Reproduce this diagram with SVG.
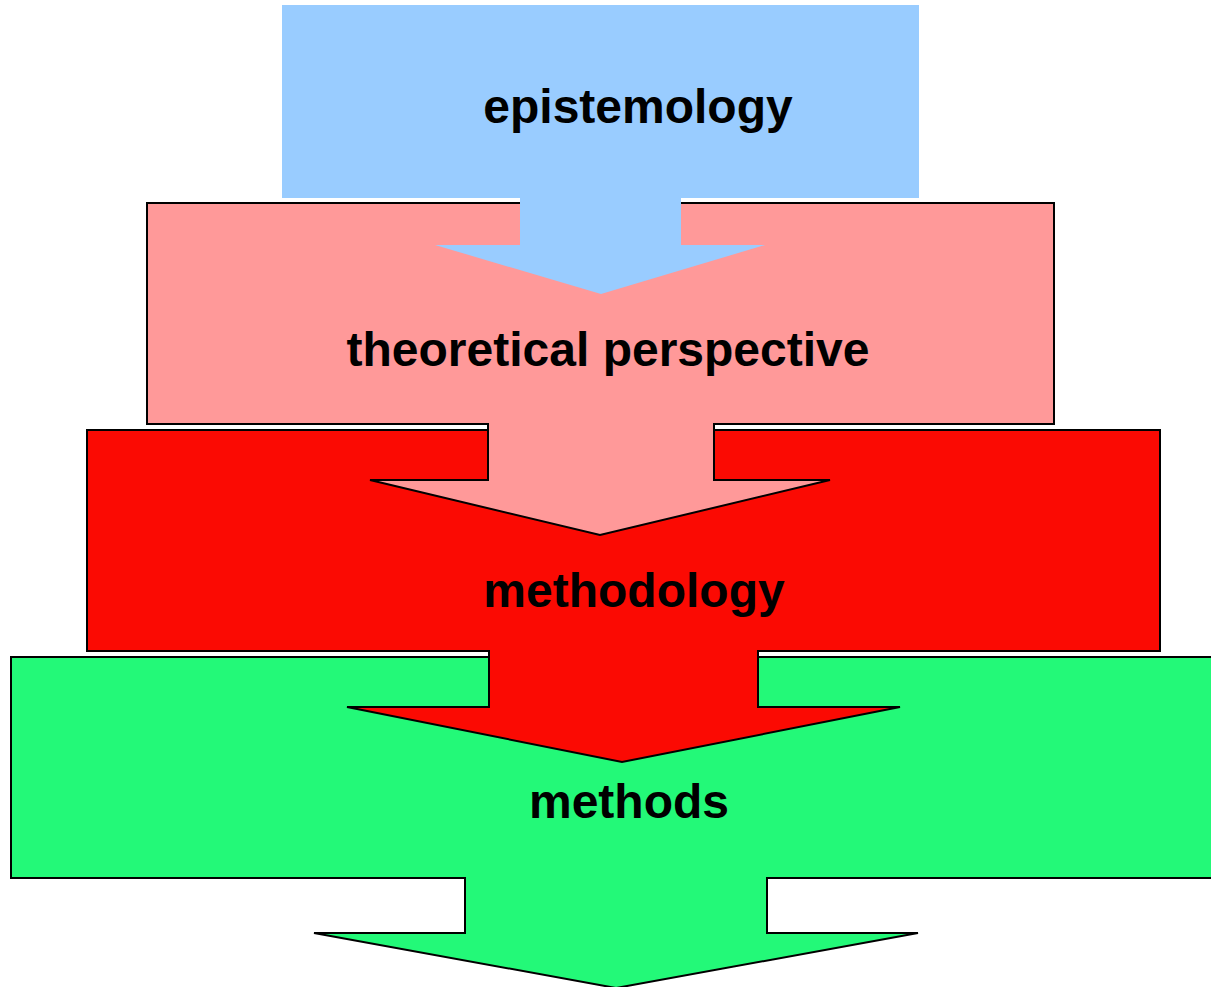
<svg xmlns="http://www.w3.org/2000/svg" width="1211" height="987" viewBox="0 0 1211 987">
<style>
.s{stroke:#000;stroke-width:2;stroke-linejoin:miter}
.t{font-family:"Liberation Sans",Arial,sans-serif;font-weight:bold;font-size:48px;fill:#000;text-anchor:middle}
</style>
<rect width="1211" height="987" fill="#fff"/>
<g id="methods">
<path class="s" fill="#23f978" d="M11,657 H1216 V878 H767 V933 H918 L616,988 L314,933 H465 V878 H11 Z"/>
<text class="t" x="629" y="818">methods</text>
</g>
<g id="methodology">
<path class="s" fill="#fb0a03" d="M87,430 H1160 V651 H758 V707 H900 L622,762 L347,707 H489 V651 H87 Z"/>
<text class="t" x="634" y="607">methodology</text>
</g>
<g id="theoretical-perspective">
<path class="s" fill="#ff9999" d="M147,203 H1054 V424 H714 V480 H830 L600,535 L370,480 H488 V424 H147 Z"/>
<text class="t" x="608" y="366">theoretical perspective</text>
</g>
<g id="epistemology">
<path fill="#99ccff" d="M282,5 H919 V198 H681 V245 H765 L601,294 L435,245 H520 V198 H282 Z"/>
<text class="t" x="638" y="123">epistemology</text>
</g>
<g id="connectors"></g>
</svg>
